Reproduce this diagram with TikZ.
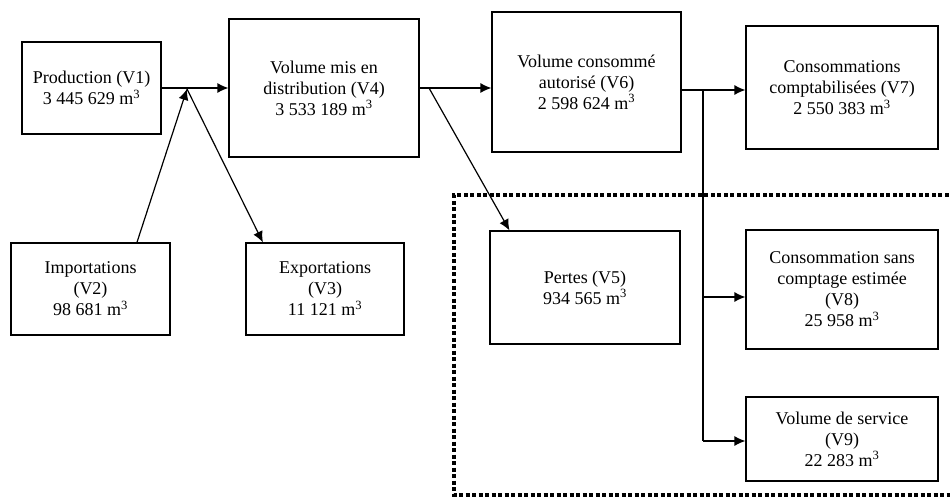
\documentclass[tikz,border=0pt]{standalone}
\usepackage{fontspec}
\setmainfont{Liberation Serif}
\usetikzlibrary{arrows.meta,calc}
\begin{document}
\begin{tikzpicture}[x=1pt,y=-1pt,
  box/.style={draw,line width=1.2pt,inner sep=0pt,align=center,
    font=\fontsize{18}{21}\selectfont},
  arr/.style={line width=1.2pt,-{Latex[length=11pt,width=10pt]}},
  ln/.style={line width=1.2pt},
  dotbox/.style={line width=3.2pt,dash pattern=on 4pt off 2.5pt}]
\useasboundingbox (0,0) rectangle (950,497);
\node[box,minimum width=139pt,minimum height=92pt] (v1) at (91.5,88) {Production (V1)\\3 445 629 m\textsuperscript{3}};
\node[box,minimum width=190pt,minimum height=138pt] (v4) at (324,88) {Volume mis en\\distribution (V4)\\3 533 189 m\textsuperscript{3}};
\node[box,minimum width=159pt,minimum height=92pt] (v2) at (90.5,289) {Importations\\(V2)\\98 681 m\textsuperscript{3}};
\node[box,minimum width=158pt,minimum height=92pt] (v3) at (325,289) {Exportations\\(V3)\\11 121 m\textsuperscript{3}};
\node[box,minimum width=189pt,minimum height=140pt] (v6) at (586.5,82) {Volume consommé\\autorisé (V6)\\2 598 624 m\textsuperscript{3}};
\node[box,minimum width=192pt,minimum height=123pt] (v7) at (842,87.5) {Consommations\\comptabilisées (V7)\\2 550 383 m\textsuperscript{3}};
\node[box,minimum width=190pt,minimum height=113pt] (v5) at (585,287.5) {Pertes (V5)\\934 565 m\textsuperscript{3}};
\node[box,minimum width=192pt,minimum height=119pt] (v8) at (842,289.5) {Consommation sans\\comptage estimée\\(V8)\\25 958 m\textsuperscript{3}};
\node[box,minimum width=192pt,minimum height=84pt] (v9) at (842,439) {Volume de service\\(V9)\\22 283 m\textsuperscript{3}};
% dotted region
\coordinate (d1) at (955,195);
\coordinate (d2) at (454,195);
\coordinate (d3) at (454,495);
\coordinate (d4) at (955,495);
\draw[dotbox] (d1) -- (d2) -- (d3) -- (d4);
% junctions
\coordinate (j1) at (187,89);
\coordinate (j2) at (429,88);
\coordinate (j3) at (703,90);
\coordinate (j4) at (703,297);
\coordinate (j5) at (703,441);
% connectors
\draw[arr] (v1) -- (v4);
\draw[arr] ($(v2.north west)!0.79!(v2.north east)$) -- (j1);
\draw[arr] (j1) -- ($(v3.north west)!0.11!(v3.north east)$);
\draw[arr] (v4.east) -- (v4.east -| v6.west);
\draw[arr] (j2) -- ($(v5.north west)!0.105!(v5.north east)$);
\draw[arr] (j3 -| v6.east) -- (j3 -| v7.west);
\draw[ln] (j3) -- (j5);
\draw[arr] (j4) -- (j4 -| v8.west);
\draw[arr] (j5) -- (j5 -| v9.west);
\end{tikzpicture}
\end{document}
